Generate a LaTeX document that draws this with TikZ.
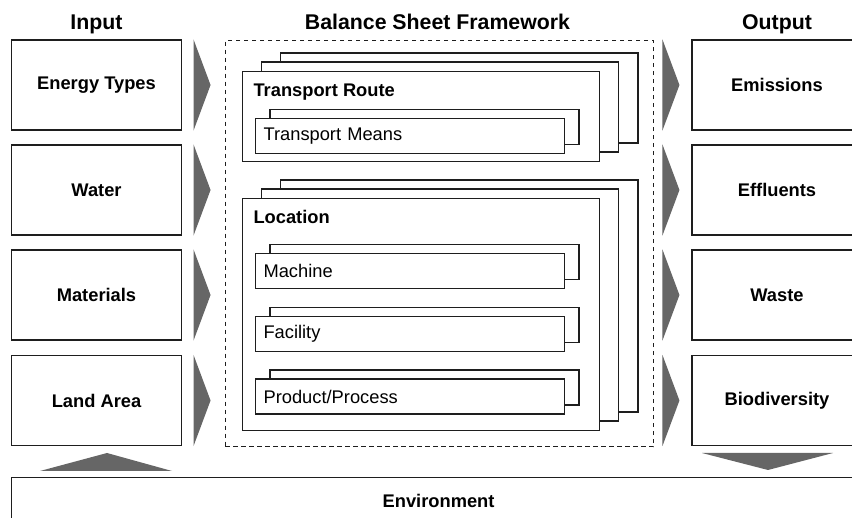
\documentclass[tikz,border=0pt]{standalone}
\usepackage{fontspec}
\setmainfont{Liberation Sans}
\usetikzlibrary{calc}
\definecolor{edge}{HTML}{1E1E1E}
\definecolor{flow}{HTML}{666666}
\begin{document}
\begin{tikzpicture}[x=1pt,y=-1pt,
  every node/.style={font=\fontsize{18.3}{22}\selectfont, text=black},
  iobox/.style={draw=edge, line width=1.1pt, fill=white, minimum width=170pt,
    minimum height=90pt, inner sep=0pt, font=\fontsize{18.3}{22}\selectfont\bfseries},
  header/.style={font=\fontsize{21.3}{25}\selectfont\bfseries, anchor=base},
  layer/.style={draw=edge, line width=1.1pt, fill=white},
  stackfront/.style={layer, anchor=north west, inner sep=0pt, minimum width=357.3pt},
  itembox/.style={layer, anchor=north west, minimum height=35pt, text width=293pt,
    inner xsep=8pt, inner ysep=0pt, align=left},
  inlabel/.style={anchor=base west, font=\fontsize{18.3}{22}\selectfont\bfseries},
  flowarrow/.style={fill=flow, draw=none},
  framebox/.style={draw=edge, line width=1.1pt, dash pattern=on 4.5pt off 3.5pt,
    inner sep=0pt, anchor=north west}
]
\path[use as bounding box] (0,0) rectangle (852,518);
\clip (0,0) rectangle (852,518);

% column headings
\node[header] (hin)  at (96.5,29.5) {Input};
\node[header] (hbs)  at (437.5,29.5) {Balance Sheet Framework};
\node[header] (hout) at (777,29.5) {Output};

% input column
\node[iobox] (energy)    at (96.5,85)    {Energy Types};
\node[iobox] (water)     at (96.5,190)   {Water};
\node[iobox] (materials) at (96.5,295)   {Materials};
\node[iobox] (land)      at (96.5,400.5) {Land Area};

% output column
\node[iobox] (emissions)    at (777,85)    {Emissions};
\node[iobox] (effluents)    at (777,190)   {Effluents};
\node[iobox] (waste)        at (777,295)   {Waste};
\node[iobox] (biodiversity) at (777,400.5) {Biodiversity};

% environment band
\node[iobox, anchor=north west, minimum width=854pt, minimum height=46pt]
  (env) at (11,477) {Environment};

% balance sheet framework
\node[framebox, minimum width=428.5pt, minimum height=406pt] (frame) at (224.5,40) {};

% transport route stack
\draw[layer] (280.7,53) rectangle (638,143);
\draw[layer] (261.2,62) rectangle (618.5,152);
\node[stackfront, minimum height=90pt] (route) at (241.7,71) {};
\node[inlabel] (routelabel) at (250,96.5) {Transport Route};
\draw[layer] (270,109.5) rectangle (579,144.5);
\node[itembox] (means) at (255,118) {Transport Means};

% location stack
\draw[layer] (280.7,180) rectangle (638,412);
\draw[layer] (261.2,189) rectangle (618.5,421);
\node[stackfront, minimum height=232pt] (location) at (241.7,198) {};
\node[inlabel] (locationlabel) at (250,224) {Location};

\draw[layer] (270,244.5) rectangle (579,279.5);
\node[itembox] (machine) at (255,253) {Machine};
\draw[layer] (270,307.5) rectangle (579,342.5);
\node[itembox] (facility) at (255,316) {Facility};
\draw[layer] (270,370) rectangle (579,405);
\node[itembox] (product) at (255,378.5) {Product/Process};

% flow arrows into the framework
\foreach \n in {energy, water, materials, land}
  \fill[flowarrow] ([xshift=11.5pt]\n.north east) -- ([xshift=28.5pt]\n.east)
    -- ([xshift=11.5pt]\n.south east) -- cycle;

% flow arrows out of the framework
\foreach \n in {emissions, effluents, waste, biodiversity}
  \fill[flowarrow] ([xshift=-29pt]\n.north west) -- ([xshift=-12pt]\n.west)
    -- ([xshift=-29pt]\n.south west) -- cycle;

% exchange with the environment
\fill[flowarrow] (40,471) -- (107,453) -- (172,471) -- cycle;
\fill[flowarrow] (702,453) -- (768,470) -- (833,453) -- cycle;
\end{tikzpicture}
\end{document}
